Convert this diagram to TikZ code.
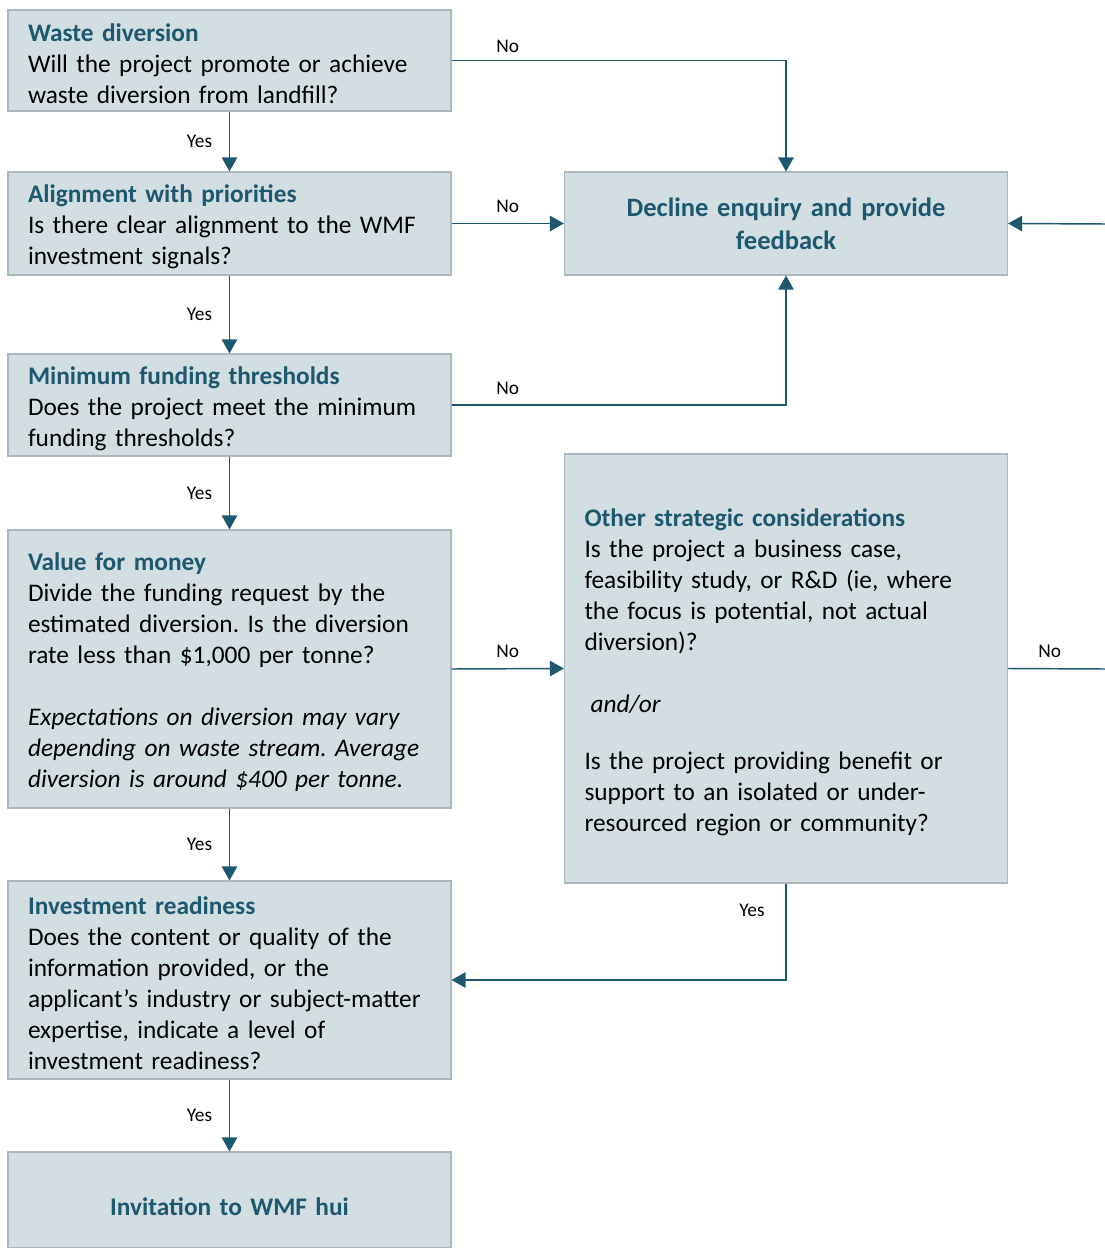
\documentclass[tikz,border=0pt]{standalone}
\usepackage{fontspec}
\setmainfont{Carlito}
\usepackage{tikz}
\usepackage{xcolor}
\usetikzlibrary{arrows.meta}

\definecolor{wmfteal}{RGB}{30,88,110}
\definecolor{boxfill}{RGB}{211,222,227}
\definecolor{boxline}{RGB}{172,184,190}
\newcommand{\bodyfont}{\frenchspacing\fontsize{19}{23.25}\selectfont}
\newcommand{\lblfont}{\fontsize{14.5}{17}\selectfont}
\newcommand{\headfont}{\fontsize{19.9}{24.75}\selectfont\bfseries}
\newcommand{\qhead}[1]{{\bfseries\color{wmfteal}#1}}

\begin{document}
\begin{tikzpicture}[x=0.75pt,y=-0.75pt,>={Triangle[width=11.5pt,length=10.5pt]},
basebox/.style={draw=boxline,fill=boxfill,line width=0.8pt,minimum width=332.25pt,text width=302.25pt,inner xsep=15pt,inner ysep=0pt},
qbox/.style={basebox,align=left,font=\bodyfont,execute at begin node={\rule{0pt}{18.5pt}}},
endbox/.style={basebox,align=center,text=wmfteal,font=\headfont},
flow/.style={->,draw=wmfteal,line width=1.1pt},
lbl/.style={font=\lblfont,inner sep=0pt}]
\useasboundingbox (0,0) rectangle (1105,1248);
%questions on the left
\node[qbox,minimum height=75.75pt](wd) at (229.5,60.5){\qhead{Waste diversion}\\Will the project promote or achieve\\waste diversion from landfill?};
\node[qbox,minimum height=77.25pt](al) at (229.5,223.5){\qhead{Alignment with priorities}\\Is there clear alignment to the WMF\\investment signals?};
\node[qbox,minimum height=76.5pt](mft) at (229.5,405){\qhead{Minimum funding thresholds}\\Does the project meet the minimum\\funding thresholds?};
\node[qbox,minimum height=208.5pt](vfm) at (229.5,669){\qhead{Value for money}\\Divide the funding request by the\\estimated diversion. Is the diversion\\rate less than \$1,000 per tonne?\\[23.25pt]
\textit{Expectations on diversion may vary}\\\textit{depending on waste stream. Average}\\\textit{diversion is around \$400 per tonne.}};
\node[qbox,minimum height=148.5pt](inv) at (229.5,980){\qhead{Investment readiness}\\Does the content or quality of the\\information provided, or the\\applicant’s industry or subject-matter\\expertise, indicate a level of\\investment readiness?};
\node[endbox,minimum height=72pt,text height=23pt,text depth=0pt,font=\fontsize{19}{23}\selectfont\bfseries](hui) at (229.5,1200){Invitation to WMF hui};
%right column
\node[endbox,minimum height=77.25pt](decl) at (786,223.5){Decline enquiry and provide\\feedback};
\node[qbox,minimum height=321.75pt](osc) at (786,668.5){\qhead{Other strategic considerations}\\Is the project a business case,\\feasibility study, or R\&D (ie, where\\the focus is potential, not actual\\diversion)?\\[23.25pt]
\hspace*{4.5pt}\textit{and/or}\\[19.5pt]
Is the project providing benefit or\\support to an isolated or under-\\resourced region or community?};
\coordinate (rgtA) at (1105,224);
\coordinate (rgtB) at (1105,669);
%connectors
\draw[flow](wd.south)--node[lbl,left=12.5pt]{Yes}(al.north);
\draw[flow](al.south)--node[lbl,left=12.5pt]{Yes}(mft.north);
\draw[flow](mft.south)--node[lbl,left=12.5pt]{Yes}(vfm.north);
\draw[flow](vfm.south)--node[lbl,left=12.5pt]{Yes}(inv.north);
\draw[flow](inv.south)--node[lbl,left=12.5pt]{Yes}(hui.north);
\draw[flow](wd.east)-|node[lbl,above=5.5pt,pos=0.084]{No}(decl.north);
\draw[flow](al.east)--node[lbl,above=7.5pt]{No}(decl.west);
\draw[flow](mft.east)-|node[lbl,above=7.5pt,pos=0.084]{No}(decl.south);
\draw[flow](vfm.east)--node[lbl,above=7.5pt]{No}(osc.west);
\draw[flow,-](osc.east)--node[lbl,above=7.5pt,pos=0.43]{No}(rgtB);
\draw[flow](rgtA)--(decl.east);
\draw[flow](osc.south)|-node[lbl,left=15.5pt,pos=0.139]{Yes}(inv.east);
\end{tikzpicture}
\end{document}
